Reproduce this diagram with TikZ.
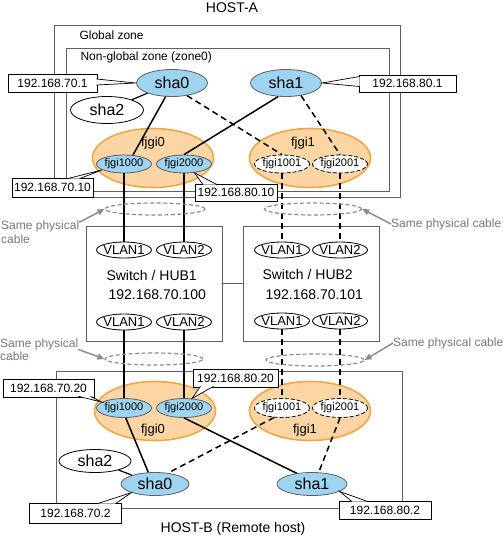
\documentclass[tikz,border=0pt]{standalone}
\usepackage{fontspec}
\setmainfont{Liberation Sans}
\usetikzlibrary{shapes.geometric,arrows.meta,calc}

\definecolor{shafill}{RGB}{158,212,240}
\definecolor{fjgifill}{RGB}{251,213,164}
\definecolor{fjgiline}{RGB}{241,166,72}
\definecolor{zoneline}{RGB}{95,95,95}
\definecolor{cablegray}{RGB}{140,140,140}

\tikzset{
  sha/.style={ellipse,draw=zoneline,line width=.8pt,fill=shafill,inner sep=0pt,minimum width=71pt,minimum height=27pt,font=\fontsize{16}{16}\selectfont},
  shaoff/.style={sha,fill=white,draw=black},
  vif/.style={ellipse,draw=zoneline,line width=.8pt,fill=shafill,inner sep=-2pt,minimum width=55pt,minimum height=18pt,font=\fontsize{11}{11}\selectfont},
  vifoff/.style={vif,fill=white,draw=black,dash pattern=on 4pt off 2pt},
  fjgi/.style={ellipse,draw=fjgiline,line width=1.6pt,fill=fjgifill,minimum width=121pt,minimum height=59pt},
  vlan/.style={ellipse,draw=black,line width=.8pt,inner sep=-2pt,minimum width=55pt,minimum height=16pt,font=\fontsize{13}{13}\selectfont},
  hub/.style={draw=zoneline,line width=.8pt,minimum width=136pt,minimum height=115pt},
  ipbox/.style={draw=black,fill=white,line width=.7pt,inner sep=0pt,minimum height=18pt,font=\fontsize{12}{12}\selectfont},
  callout/.style={draw=black,fill=white,line width=.7pt},
  frame/.style={draw=zoneline,line width=1pt},
  link/.style={line width=1.5pt},
  linkoff/.style={link,dash pattern=on 6pt off 4pt},
  cable/.style={ellipse,draw=cablegray,line width=1.2pt,dash pattern=on 4pt off 2.5pt,minimum width=100pt,minimum height=12pt},
  note/.style={text=cablegray!85!black,align=left,inner sep=0pt,font=\fontsize{12}{13.5}\selectfont},
  pointer/.style={draw=cablegray,line width=1.5pt,-{Triangle[length=7pt,width=6pt]}}
}

\begin{document}
\begin{tikzpicture}[x=1pt,y=-1pt]
  \useasboundingbox (0,0) rectangle (503,539);
  % titles
  \node (hosta) at (232,8) {\fontsize{14}{14}\selectfont HOST-A};
  \node (hostb) at (233,529) {\fontsize{14}{14}\selectfont HOST-B (Remote host)};
  % zones
  \draw[frame] (54,25) rectangle (400,197);
  \draw[frame] (66,48) rectangle (389,191);
  \draw[frame] (56,371) rectangle (402,508);
  \node[anchor=west,font=\fontsize{12}{12}\selectfont] (gzone) at (76,35) {Global zone};
  \node[anchor=west,font=\fontsize{12}{12}\selectfont] (ngzone) at (77,57) {Non-global zone (zone0)};
  % HOST-A interfaces
  \node[fjgi] (fjgi0A) at (153,158) {};
  \node[fjgi] (fjgi1A) at (310,158) {};
  \node[font=\fontsize{13}{13}\selectfont] (lbl0A) at (153,143) {fjgi0};
  \node[font=\fontsize{13}{13}\selectfont] (lbl1A) at (303,143) {fjgi1};
  \node[sha] (sha0A) at (172,83) {sha0};
  \node[sha] (sha1A) at (286,83) {sha1};
  \node[shaoff,minimum width=73pt] (sha2A) at (107,110) {sha2};
  \node[vif] (fjgi1000A) at (124,164) {fjgi1000};
  \node[vif] (fjgi2000A) at (184,164) {fjgi2000};
  \node[vifoff] (fjgi1001A) at (282,164) {fjgi1001};
  \node[vifoff] (fjgi2001A) at (340,164) {fjgi2001};
  % switches
  \node[hub] (hub1) at (154,283.5) {};
  \node[hub] (hub2) at (311,283.5) {};
  \node[vlan] (h1top1) at (124,250) {VLAN1};
  \node[vlan] (h1top2) at (184,250) {VLAN2};
  \node[vlan] (h2top1) at (282,250) {VLAN1};
  \node[vlan] (h2top2) at (340,250) {VLAN2};
  \node[vlan] (h1bot1) at (124,322) {VLAN1};
  \node[vlan] (h1bot2) at (184,322) {VLAN2};
  \node[vlan] (h2bot1) at (282,321) {VLAN1};
  \node[vlan] (h2bot2) at (340,321) {VLAN2};
  \node[anchor=west,font=\fontsize{14}{14}\selectfont] (sw1) at (103,275) {Switch / HUB1};
  \node[anchor=west,font=\fontsize{14}{14}\selectfont] (sw1ip) at (105,295) {192.168.70.100};
  \node[anchor=west,font=\fontsize{14}{14}\selectfont] (sw2) at (259,274) {Switch / HUB2};
  \node[anchor=west,font=\fontsize{14}{14}\selectfont] (sw2ip) at (262,295) {192.168.70.101};
  % HOST-B interfaces
  \node[fjgi] (fjgi0B) at (155,411) {};
  \node[fjgi] (fjgi1B) at (310,411) {};
  \node[font=\fontsize{13}{13}\selectfont] (lbl0B) at (153,430) {fjgi0};
  \node[font=\fontsize{13}{13}\selectfont] (lbl1B) at (305,430) {fjgi1};
  \node[vif,minimum height=19pt] (fjgi1000B) at (124,408) {fjgi1000};
  \node[vif,minimum height=19pt] (fjgi2000B) at (184,408) {fjgi2000};
  \node[vifoff,minimum height=19pt] (fjgi1001B) at (282,408) {fjgi1001};
  \node[vifoff,minimum height=19pt] (fjgi2001B) at (340,408) {fjgi2001};
  \node[sha,minimum width=68pt,minimum height=23pt] (sha0B) at (155,484) {sha0};
  \node[sha,minimum width=70pt,minimum height=23pt] (sha1B) at (312,484) {sha1};
  \node[shaoff,minimum width=72pt,minimum height=23pt] (sha2B) at (95,461) {sha2};
  % links HOST-A
  \draw[link,line width=1.2pt] (sha0A) -- (sha2A);
  \draw[link] (sha0A.-115) -- (fjgi1000A.45);
  \draw[linkoff] (sha0A.-40) -- (fjgi1001A.north);
  \draw[link] (sha1A.-120) -- (fjgi2000A.north);
  \draw[linkoff] (sha1A.-40) -- (fjgi2001A.north);
  % cables
  \draw[link] (fjgi1000A) -- (h1top1);
  \draw[link] (fjgi2000A) -- (h1top2);
  \draw[linkoff] (fjgi1001A) -- (h2top1);
  \draw[linkoff] (fjgi2001A) -- (h2top2);
  \draw[link] (h1bot1) -- (fjgi1000B);
  \draw[link] (h1bot2) -- (fjgi2000B);
  \draw[linkoff] (h2bot1) -- (fjgi1001B);
  \draw[linkoff] (h2bot2) -- (fjgi2001B);
  \draw[draw=zoneline,line width=.8pt] (hub1) -- (hub2);
  % links HOST-B
  \draw[link] (fjgi1000B.-80) -- (sha0B.120);
  \draw[link] (fjgi2000B.-90) -- (sha1B.145);
  \draw[linkoff] (fjgi1001B.-130) -- (sha0B.40);
  \draw[linkoff] (fjgi2001B.-90) -- (sha1B.60);
  \draw[link,line width=1.2pt] (sha2B) -- (sha0B);
  % same physical cable
  \node[cable] (cableTL) at (155,209) {};
  \node[cable,minimum width=97pt] (cableTR) at (313,209) {};
  \node[cable,minimum width=98pt] (cableBL) at (154,359) {};
  \node[cable,minimum width=98pt] (cableBR) at (315,360) {};
  \node[note,anchor=west] (noteTL) at (1,232) {Same physical\\cable};
  \node[note,anchor=west] (noteTR) at (391,224) {Same physical cable};
  \node[note,anchor=west] (noteBL) at (0,349.5) {Same physical\\cable};
  \node[note,anchor=west] (noteBR) at (393,343) {Same physical cable};
  \draw[pointer] (noteTL.14) -- (cableTL.west);
  \draw[pointer] (noteTR.west) -- (cableTR.east);
  \draw[pointer] (noteBL.east) -- (cableBL.west);
  \draw[pointer] (noteBR.west) -- (cableBR.east);
  % addresses
  \node[ipbox,minimum width=89pt] (ipA70) at (52.5,83) {192.168.70.1};
  \node[ipbox,minimum width=97pt,minimum height=17pt] (ipA80) at (407.5,83.5) {192.168.80.1};
  \node[ipbox,minimum width=81pt,minimum height=19pt] (ipA7010) at (52.5,187.5) {192.168.70.10};
  \node[ipbox,minimum width=82pt,minimum height=17pt] (ipA8010) at (236,192.5) {192.168.80.10};
  \node[ipbox,minimum width=91pt] (ipB7020) at (48.5,388) {192.168.70.20};
  \node[ipbox,minimum width=85pt] (ipB8020) at (235.5,378) {192.168.80.20};
  \node[ipbox,minimum width=92pt,minimum height=20pt] (ipB702) at (75.5,513) {192.168.70.2};
  \node[ipbox,minimum width=92pt] (ipB802) at (385,510) {192.168.80.2};
  \draw[callout] ($(ipA70.east)+(-1,-4)$) -- (sha0A.west) -- ($(ipA70.east)+(-1,2)$);
  \draw[callout] ($(ipA80.west)+(1,-7)$) -- (sha1A.east) -- ($(ipA80.west)+(1,3)$);
  \draw[callout] ($(ipA7010.north)+(15,1)$) -- (fjgi1000A.195) -- ($(ipA7010.north)+(27,1)$);
  \draw[callout] ($(ipA8010.north)+(-33,1)$) -- (fjgi2000A.-40) -- ($(ipA8010.north)+(-19,1)$);
  \draw[callout] ($(ipB7020.south)+(30,-1)$) -- (fjgi1000B.165) -- ($(ipB7020.south)+(42,-1)$);
  \draw[callout] ($(ipB8020.south)+(-35,-1)$) -- (fjgi2000B.50) -- ($(ipB8020.south)+(-22,-1)$);
  \draw[callout] ($(ipB702.north)+(22,1)$) -- (sha0B.-160) -- ($(ipB702.north)+(40,1)$);
  \draw[callout] ($(ipB802.north)+(-33,1)$) -- (sha1B.-15) -- ($(ipB802.north)+(-17,1)$);
\end{tikzpicture}
\end{document}
